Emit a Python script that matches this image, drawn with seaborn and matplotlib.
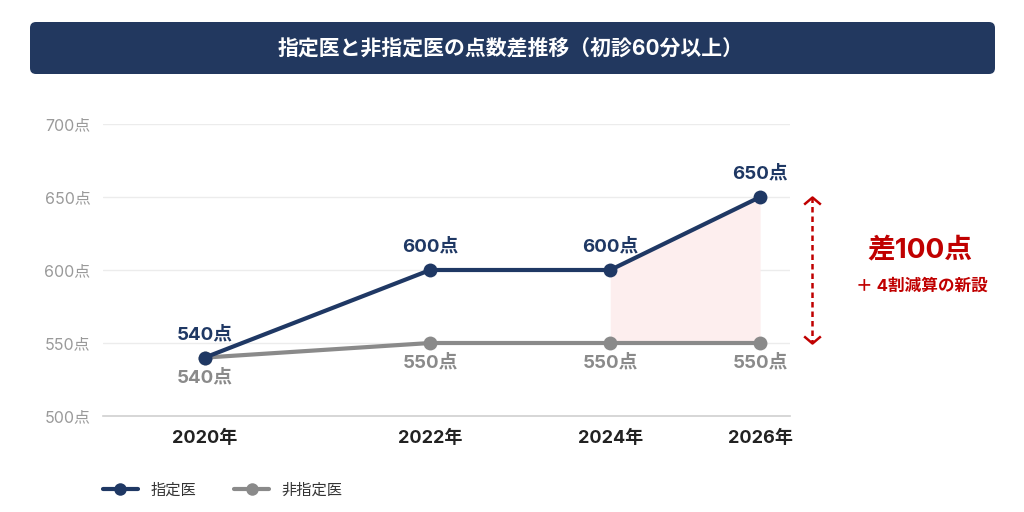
import numpy as np
import pandas as pd
import matplotlib.pyplot as plt
import seaborn as sns
from matplotlib.lines import Line2D
from matplotlib.patches import FancyBboxPatch
import matplotlib.transforms as mtransforms

years = [2020, 2022, 2024, 2026]
shitei = [540, 600, 600, 650]      # 指定医
hishitei = [540, 550, 550, 550]    # 非指定医
series_names = ['指定医', '非指定医']
y_ticks = [500, 550, 600, 650, 700]
title = '指定医と非指定医の点数差推移（初診60分以上）'
gap_label = '差100点'
gap_note = '＋ 4割減算の新設'

NAVY = '#1f3864'
GRAY = '#8a8a8a'
RED = '#c00000'

sns.set_theme(style='white')
plt.rcParams['font.family'] = ['Inter', 'Noto Sans CJK JP', 'DejaVu Sans']

fig = plt.figure(figsize=(10.24, 5.12), dpi=100)
ax = fig.add_axes([103 / 1024, 1 - 416 / 512, (790 - 103) / 1024, 292 / 512])

# title bar
bar = FancyBboxPatch((0.30, 5.12 - 0.74), 9.65, 0.52,
                     boxstyle='round,pad=0,rounding_size=0.06',
                     transform=fig.dpi_scale_trans, facecolor='#22385f',
                     edgecolor='none')
fig.patches.append(bar)
fig.text(511 / 1024, 1 - 48 / 512, title, color='white', fontsize=15,
         fontweight='bold', ha='center', va='center')

# slightly nonlinear year axis
ax.set_xscale('function', functions=(lambda x: np.log(np.clip(x - 2013, 1e-6, None)),
                                     lambda x: np.exp(x) + 2013))

df = pd.DataFrame({'year': years * 2,
                   'score': shitei + hishitei,
                   'kind': [series_names[0]] * 4 + [series_names[1]] * 4})

ax.fill_between(years[2:], shitei[2:], hishitei[2:], color='#fdeeee', lw=0, zorder=1)
sns.lineplot(data=df[df.kind == series_names[1]], x='year', y='score', ax=ax,
             color=GRAY, lw=3, marker='o', markersize=10, markeredgewidth=0,
             legend=False, zorder=3, clip_on=False)
sns.lineplot(data=df[df.kind == series_names[0]], x='year', y='score', ax=ax,
             color=NAVY, lw=3, marker='o', markersize=10, markeredgewidth=0,
             legend=False, zorder=4, clip_on=False)

for x, a, b in zip(years, shitei, hishitei):
    ax.annotate(f'{a}点', (x, a), xytext=(0, 16.5), textcoords='offset points',
                ha='center', va='center', color=NAVY, fontsize=13.5, fontweight='bold')
    ax.annotate(f'{b}点', (x, b), xytext=(0, -14.5), textcoords='offset points',
                ha='center', va='center', color=GRAY, fontsize=13.5, fontweight='bold')

ax.set_xlim(2019.25, 2026.44)
ax.set_ylim(500, 700)
ax.set_yticks(y_ticks)
ax.set_yticklabels([f'{v}点' for v in y_ticks])
ax.set_xticks(years)
ax.set_xticklabels([f'{y}年' for y in years])
ax.tick_params(axis='y', length=0, pad=9, labelsize=11.5, labelcolor='#9a9a9a')
ax.tick_params(axis='x', length=0, pad=10, labelsize=13, labelcolor='#222222')
for lab in ax.get_xticklabels():
    lab.set_fontweight('bold')
ax.set_xlabel('')
ax.set_ylabel('')
ax.grid(axis='y', color='#ececec', lw=1)
ax.grid(axis='x', visible=False)
for s in ['top', 'right', 'left']:
    ax.spines[s].set_visible(False)
ax.spines['bottom'].set_color('#d0d0d0')
ax.spines['bottom'].set_linewidth(1.2)

# red gap arrow
trans = mtransforms.blended_transform_factory(ax.transAxes, ax.transData)
ax_x = (812 - 103) / 687
ax.plot([ax_x, ax_x], [shitei[-1], hishitei[-1]], transform=trans, color=RED,
        lw=1.8, ls=(0, (2.2, 1.6)), clip_on=False)
ax.plot([ax_x], [shitei[-1]], transform=trans, color=RED, lw=0,
        marker=[(-1, -0.85), (0, 0), (1, -0.85)], markersize=12,
        markerfacecolor='none', markeredgecolor=RED, markeredgewidth=1.8, clip_on=False)
ax.plot([ax_x], [hishitei[-1]], transform=trans, color=RED, lw=0,
        marker=[(-1, 0.85), (0, 0), (1, 0.85)], markersize=12,
        markerfacecolor='none', markeredgecolor=RED, markeredgewidth=1.8, clip_on=False)
ax.text((920 - 103) / 687, 613.5, gap_label, transform=trans, color=RED,
        fontsize=20, fontweight='bold', ha='center', va='center')
ax.text((922 - 103) / 687, 589, gap_note, transform=trans, color=RED,
        fontsize=12, fontweight='bold', ha='center', va='center')

handles = [Line2D([], [], color=NAVY, lw=3, marker='o', markersize=9, markeredgewidth=0),
           Line2D([], [], color=GRAY, lw=3, marker='o', markersize=9, markeredgewidth=0)]
fig.legend(handles, series_names, loc='center left', bbox_to_anchor=(89 / 1024, 1 - 490 / 512),
           ncol=2, frameon=False, fontsize=11, handlelength=2.3, handletextpad=0.8,
           columnspacing=2.5, labelcolor='#333333')

fig.savefig('out.png', dpi=100)
